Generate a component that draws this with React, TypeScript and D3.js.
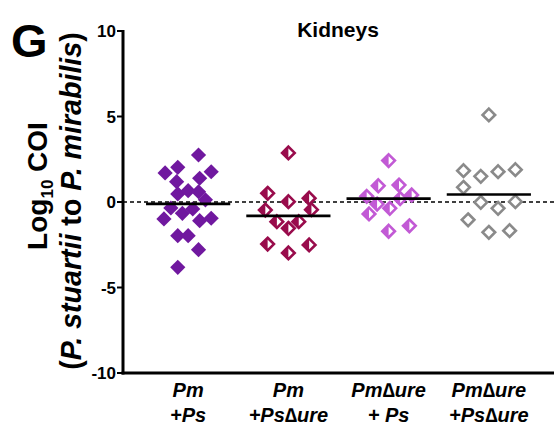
import React from 'react';
import * as d3 from 'd3';

// groups on the x axis
const groups = ['PmPs', 'PmPsUre', 'PmUrePs', 'PmUrePsUre'];
const labelTop = ['Pm', 'Pm', 'Pm\u2206ure', 'Pm\u2206ure'];
const labelBottom = ['+Ps', '+Ps\u2206ure', '+ Ps', '+Ps\u2206ure'];
const colors = ['#70189f', '#990c4c', '#c25ad5', '#8a8a8a'];
const markerStyle = ['solid', 'half', 'half', 'open'];

// log10 COI values
const pmPs = [2.75, 2.03, 1.70, 1.77, 1.19, 1.39, 0.47, 0.66, 0.60, 0.13, -0.35, -0.41, -0.99, -0.66, -1.09, -0.95, -1.97, -1.97, -2.79, -3.82];
const pmPsUre = [2.87, 0.51, 0.02, 0.22, -0.47, -0.45, -1.15, -1.15, -1.54, -2.46, -2.51, -2.98];
const pmUrePs = [2.42, 0.95, 0.99, 0.33, 0.41, -0.12, 0.2, -0.70, -0.37, -1.71, -1.39];
const pmUrePsUre = [5.09, 1.83, 1.50, 1.77, 1.89, 0.86, -0.02, -0.37, 0.02, -1.04, -1.77, -1.68];

// horizontal scatter columns (GraphPad style spread)
const pmPsJitter = [0.9, -0.9, -2, 2, -1, 1, -0.9, 0, 0.9, 1.5, -1.5, 0.4, -2.1, -0.5, 1, 2, -0.9, 0, 0.9, -0.9];
const pmPsUreJitter = [0, -1.8, 0, 1.8, -2, 2, -1, 0.9, 0, -1.8, 1.8, 0];
const pmUrePsJitter = [0, -0.9, 0.9, -1.9, 2, -1, 1, -1.7, 0.1, 0, 1.8];
const pmUrePsUreJitter = [0, -2.2, -0.7, 0.8, 2.3, -2.2, -0.7, 0.8, 2.3, -1.8, 0, 1.8];

const yTicks = [10, 5, 0, -5, -10];

const values = [pmPs, pmPsUre, pmUrePs, pmUrePsUre];
const jitters = [pmPsJitter, pmPsUreJitter, pmUrePsJitter, pmUrePsUreJitter];

const font = '"Liberation Sans", Arial, sans-serif';

export default function App() {
    const width = 554;
    const height = 430;
    const axisX = 123;

    const x = d3.scalePoint<string>().domain(groups).range([axisX, width]).padding(0.65);
    const y = d3.scaleLinear().domain([-10, 10]).range([373, 31]);
    const step = x.step();
    const jit = d3.scaleLinear().domain([-1, 1]).range([-0.115 * step, 0.115 * step]);

    const r = 7.6;
    const ri = 6.3;
    const diamond = `M0,${-r}L${r},0L0,${r}L${-r},0Z`;
    const diamondIn = `M0,${-ri}L${ri},0L0,${ri}L${-ri},0Z`;
    const leftHalf = `M0,${-ri}L0,${ri}L${-ri},0Z`;

    return (
        <svg width={width} height={height} style={{ position: 'absolute', left: 0, top: 0, fontFamily: font }}>
            {/* panel letter and title */}
            <text x={11} y={57} fontSize={47} fontWeight="bold">G</text>
            <text x={338} y={37} fontSize={21} fontWeight="bold" textAnchor="middle">Kidneys</text>

            {/* y axis title */}
            <text transform={`translate(47, ${y(0) - 16}) rotate(-90)`} fontSize={28} fontWeight="bold" textAnchor="middle">
                Log<tspan fontSize={17} dy={6}>10</tspan><tspan dy={-6}> COI</tspan>
            </text>
            <text transform={`translate(81, ${y(0) - 1}) rotate(-90)`} fontSize={28.6} fontWeight="bold" textAnchor="middle">
                (<tspan fontStyle="italic">P. stuartii</tspan> to <tspan fontStyle="italic">P. mirabilis</tspan>)
            </text>

            {/* zero reference line */}
            <line x1={axisX} x2={width} y1={y(0)} y2={y(0)} stroke="#000" strokeWidth={1.3} strokeDasharray="4,3" />

            {/* points */}
            {values.map((vals, g) => vals.map((v, i) => {
                const cx = (x(groups[g]) as number) + jit(jitters[g][i]);
                const cy = y(v);
                const c = colors[g];
                if (markerStyle[g] === 'solid') {
                    return <path key={`${g}-${i}`} d={diamond} transform={`translate(${cx},${cy})`} fill={c} />;
                }
                return (
                    <g key={`${g}-${i}`} transform={`translate(${cx},${cy})`}>
                        <path d={diamondIn} fill="#fff" stroke={c} strokeWidth={2.6} />
                        {markerStyle[g] === 'half' && <path d={leftHalf} fill={c} />}
                    </g>
                );
            }))}

            {/* medians */}
            {values.map((vals, g) => {
                const m = d3.median(vals) as number;
                const cx = x(groups[g]) as number;
                return <line key={g} x1={cx - 0.42 * step} x2={cx + 0.42 * step} y1={y(m)} y2={y(m)} stroke="#000" strokeWidth={2.6} />;
            })}

            {/* y axis */}
            <line x1={axisX} x2={axisX} y1={y(10) - 1} y2={y(-10) + 1.5} stroke="#000" strokeWidth={3} />
            {yTicks.map(t => (
                <g key={t} transform={`translate(${axisX},${y(t)})`}>
                    <line x1={-6} x2={0} stroke="#000" strokeWidth={2} />
                    <text x={-7} dy="0.36em" fontSize={17} fontWeight="bold" textAnchor="end">{t}</text>
                </g>
            ))}

            {/* x axis */}
            <line x1={axisX - 1.5} x2={width} y1={y(-10)} y2={y(-10)} stroke="#000" strokeWidth={3} />
            {groups.map((g, i) => (
                <text key={g} x={x(g)} textAnchor="middle" fontSize={20} fontWeight="bold" fontStyle="italic">
                    <tspan x={x(g)} y={397}>{labelTop[i]}</tspan>
                    <tspan x={x(g)} y={422}>{labelBottom[i]}</tspan>
                </text>
            ))}
        </svg>
    );
}
